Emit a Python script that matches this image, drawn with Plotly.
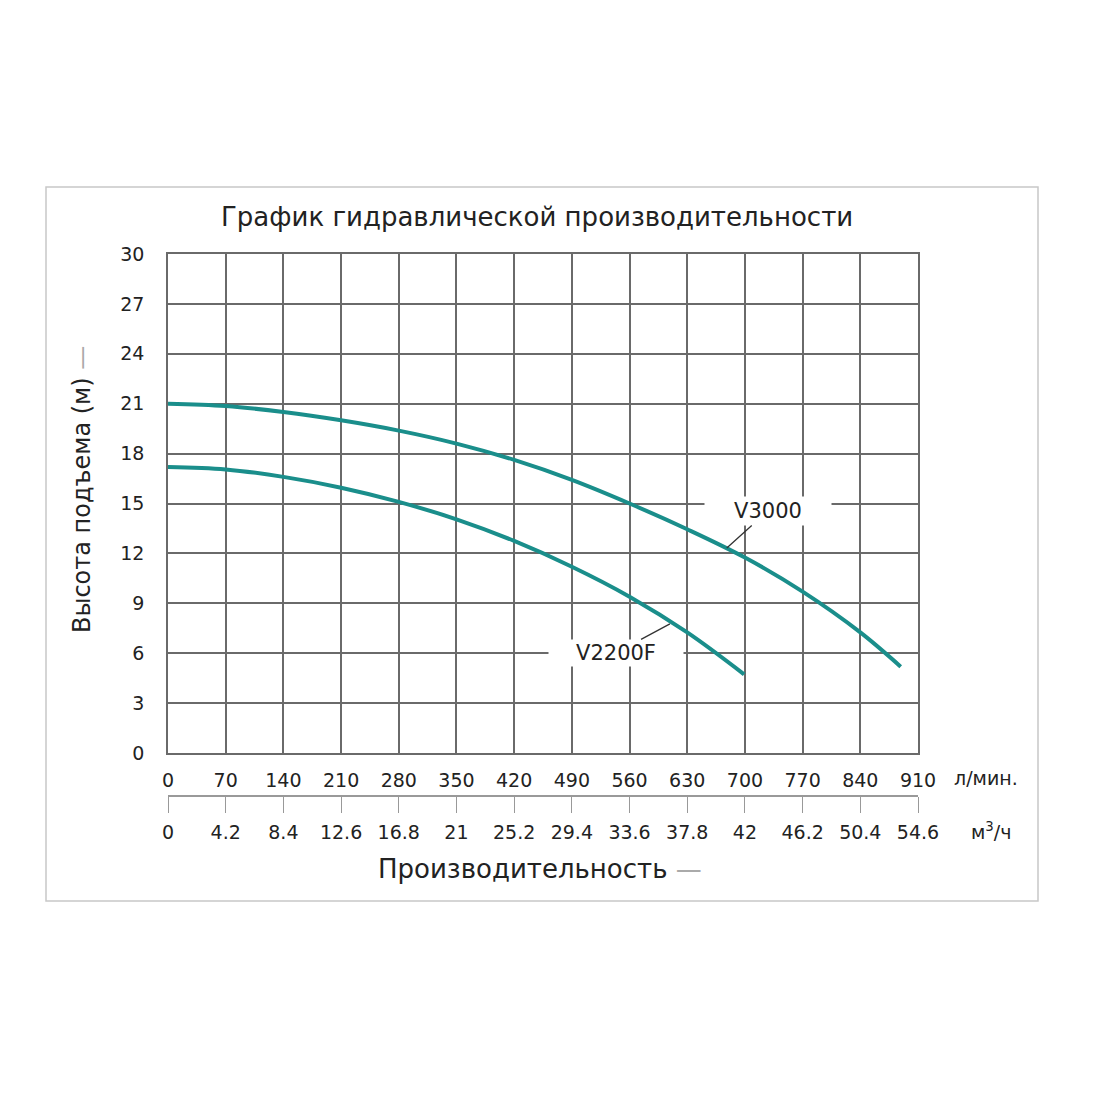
import plotly.graph_objects as go

# Data
flow_lpm_v3000 = [0, 70, 140, 210, 280, 350, 420, 490, 560, 630, 700, 770, 840, 889]
head_v3000 = [21.0, 20.86, 20.5, 20.0, 19.38, 18.6, 17.62, 16.42, 15.0, 13.45, 11.75, 9.7, 7.25, 5.19]

flow_lpm_v2200f = [0, 70, 140, 210, 280, 350, 420, 490, 560, 630, 699]
head_v2200f = [17.2, 17.05, 16.6, 15.95, 15.1, 14.05, 12.75, 11.2, 9.4, 7.25, 4.73]

lpm_ticks = [0, 70, 140, 210, 280, 350, 420, 490, 560, 630, 700, 770, 840, 910]
m3h_ticks = [0, 4.2, 8.4, 12.6, 16.8, 21, 25.2, 29.4, 33.6, 37.8, 42, 46.2, 50.4, 54.6]
m3h_labels = ["0", "4.2", "8.4", "12.6", "16.8", "21", "25.2", "29.4", "33.6", "37.8", "42", "46.2", "50.4", "54.6"]
head_ticks = [0, 3, 6, 9, 12, 15, 18, 21, 24, 27, 30]

TEAL = "#1a8e8b"
GRID = "#6a6a6a"
TXT = "#222222"
FONT = "DejaVu Sans, Liberation Sans, Arial, sans-serif"

fig = go.Figure()
fig.add_trace(go.Scatter(x=flow_lpm_v3000, y=head_v3000, mode="lines",
                         line=dict(color=TEAL, width=4, shape="spline", smoothing=1), name="V3000"))
fig.add_trace(go.Scatter(x=flow_lpm_v2200f, y=head_v2200f, mode="lines",
                         line=dict(color=TEAL, width=4, shape="spline", smoothing=1), name="V2200F"))
# invisible trace to activate the secondary axis
fig.add_trace(go.Scatter(x=[m3h_ticks[0], m3h_ticks[-1]], y=[0, 0], xaxis="x2", mode="markers",
                         marker=dict(opacity=0), hoverinfo="skip", showlegend=False))

OFF = 8  # page body margin
W, H = 1100, 1100
L, R = 168 - OFF, 918 - OFF
T = 254 - OFF
AX_BOTTOM = 753 - OFF
AX2 = 796 - OFF

fig.update_layout(
    width=W, height=H, autosize=False,
    margin=dict(l=L, r=W - R, t=T, b=H - AX2, pad=0),
    paper_bgcolor="white", plot_bgcolor="white",
    showlegend=False,
    font=dict(family=FONT, color=TXT, size=19),
    xaxis=dict(range=[0, 910], tickvals=lpm_ticks, showgrid=True, gridcolor=GRID, gridwidth=1.5,
               showline=True, linecolor=GRID, linewidth=1.5, mirror=True, ticks="", zeroline=False,
               anchor="y", tickfont=dict(size=19, color=TXT), ticklabelstandoff=9, fixedrange=True),
    xaxis2=dict(range=[0, 54.6], tickvals=m3h_ticks, ticktext=m3h_labels, overlaying="x", anchor="free", position=0,
                side="bottom", showgrid=False, showline=True, linecolor="#999999", linewidth=1.5,
                ticks="outside", ticklen=16, tickcolor="#999999", tickwidth=1.2, zeroline=False,
                tickfont=dict(size=19, color=TXT), ticklabelstandoff=3),
    yaxis=dict(range=[0, 30], tickvals=head_ticks, domain=[(AX2 - AX_BOTTOM) / (AX2 - T), 1],
               showgrid=True, gridcolor=GRID, gridwidth=1.5, showline=True, linecolor=GRID, linewidth=1.5,
               mirror=True, ticks="", zeroline=False, tickfont=dict(size=19, color=TXT), ticklabelstandoff=18),
)

pw = R - L
ph = AX2 - T
def px(xp):
    return (xp - OFF - L) / pw
def py(yp):
    return (AX2 - (yp - OFF)) / ph

# outer frame
fig.add_shape(type="rect", xref="paper", yref="paper", x0=px(46), x1=px(1038), y0=py(901), y1=py(187),
              line=dict(color="#c8c8c8", width=1.5), fillcolor="rgba(0,0,0,0)", layer="below")

anns = [
    dict(text="График гидравлической производительности", x=px(537), y=py(217), size=26),
    dict(text="Производительность <span style='color:#aaaaaa'>—</span>", x=px(540), y=py(869), size=26),
    dict(text="л/мин.", x=px(986), y=py(778), size=19),
    dict(text="м<sup>3</sup>/ч", x=px(991), y=py(831), size=19),
]
for a in anns:
    fig.add_annotation(text=a["text"], xref="paper", yref="paper", x=a["x"], y=a["y"], showarrow=False,
                       xanchor="center", yanchor="middle", font=dict(size=a["size"], color=TXT, family=FONT))

fig.add_annotation(text="Высота подъема (м) <span style='color:#aaaaaa'>—</span>", xref="paper", yref="paper",
                   x=px(82), y=py(490), textangle=-90, showarrow=False, xanchor="center", yanchor="middle",
                   font=dict(size=24, color=TXT, family=FONT))

# curve labels with leader lines
fig.add_annotation(text="V3000", x=678, y=12.33, xref="x", yref="y", ax=41, ay=-37, axref="pixel", ayref="pixel",
                   showarrow=True, arrowhead=0, arrowwidth=1.3, arrowcolor="#333333", bgcolor="white",
                   width=124, height=26, font=dict(size=21, color=TXT, family=FONT))
fig.add_annotation(text="V2200F", x=609, y=7.76, xref="x", yref="y", ax=-54, ay=29, axref="pixel", ayref="pixel",
                   showarrow=True, arrowhead=0, arrowwidth=1.3, arrowcolor="#333333", bgcolor="white",
                   width=132, height=24, font=dict(size=21, color=TXT, family=FONT))

fig.write_html("out.html")
